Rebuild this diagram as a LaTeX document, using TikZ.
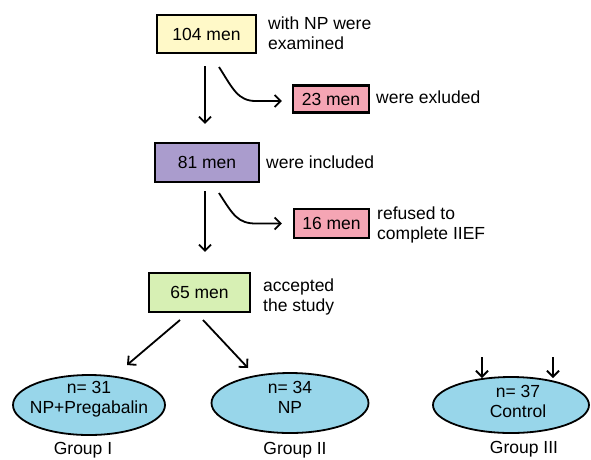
\documentclass[tikz,border=0pt]{standalone}
\usepackage{fontspec}
\setmainfont{Liberation Sans}
\usetikzlibrary{arrows.meta,shapes.geometric}
\definecolor{boxyellow}{RGB}{255,249,200}
\definecolor{boxpink}{RGB}{245,165,180}
\definecolor{boxpurple}{RGB}{170,156,205}
\definecolor{boxgreen}{RGB}{215,240,180}
\definecolor{ovalblue}{RGB}{152,214,234}
\begin{document}
\begin{tikzpicture}[x=1pt,y=-1pt,
  font=\fontsize{17.5}{20}\selectfont,
  box/.style={draw=black,line width=2.2pt,inner sep=0pt,align=center},
  oval/.style={ellipse,draw=black,line width=1.8pt,fill=ovalblue,inner sep=0pt},
  lbl/.style={anchor=west,align=left,inner sep=0pt},
  ctext/.style={align=center,inner sep=0pt},
  arr/.style={line width=1.8pt,-{Straight Barb[length=6pt,width=12pt,line width=1.8pt]}}]
\useasboundingbox (0,0) rectangle (591,459);

% boxes
\node[box,fill=boxyellow,minimum width=99pt,minimum height=38pt] (b104) at (206.5,34) {104 men};
\node[box,fill=boxpink,minimum width=76pt,minimum height=27pt] (b23) at (331,99) {23 men};
\node[box,fill=boxpurple,minimum width=104pt,minimum height=39pt] (b81) at (207,162.5) {81 men};
\node[box,fill=boxpink,minimum width=75pt,minimum height=29pt] (b16) at (331.5,223.5) {16 men};
\node[box,fill=boxgreen,minimum width=101pt,minimum height=39pt] (b65) at (199.5,292.5) {65 men};

% side labels
\node[lbl] (t104) at (268,33) {with NP were\\examined};
\node[lbl] (t23) at (376,97) {were exluded};
\node[lbl] (t81) at (266,162) {were included};
\node[lbl] (t16) at (377,225) {refused to\\complete IIEF};
\node[lbl] (t65) at (263,297) {accepted\\the study};

% ellipses
\node[oval,minimum width=152pt,minimum height=60pt] (e1) at (89,405) {};
\node[oval,minimum width=157pt,minimum height=60pt] (e2) at (290,403) {};
\node[oval,minimum width=156pt,minimum height=56pt] (e3) at (511,405) {};
\node[ctext] (n1) at (89,399) {n= 31\\NP+Pregabalin};
\node[ctext] (n2) at (290,397) {n= 34\\NP};
\node[ctext] (n3) at (518,401) {n= 37\\Control};

% group labels
\node[ctext] (g1) at (83,450) {Group I};
\node[ctext] (g2) at (295,450) {Group II};
\node[ctext] (g3) at (524,449) {Group III};

% vertical arrows
\draw[arr,shorten <=12pt,shorten >=18pt] ([xshift=-1.5pt]b104.south) -- ([xshift=-1.5pt]b104.south |- b81.north);
\draw[arr,shorten <=8pt,shorten >=20pt] ([xshift=-2pt]b81.south) -- ([xshift=-2pt]b81.south |- b65.north);

% curved arrows
\coordinate (c1) at (219,67);
\coordinate (c2) at (219,193);
\draw[arr] (c1) .. controls +(14,22) and +(-18,0) .. ([xshift=-36pt,yshift=-2pt]b23.west) -- ([xshift=-10pt,yshift=-2pt]b23.west);
\draw[arr] (c2) .. controls +(14,22) and +(-18,0) .. ([xshift=-37pt]b16.west) -- ([xshift=-11pt]b16.west);

% arrows to groups
\coordinate (s1) at (180,320);
\coordinate (s2) at (203,320);
\coordinate (d1) at (127,365);
\coordinate (d2) at (248,368);
\draw[arr] (s1) -- (d1);
\draw[arr] (s2) -- (d2);

% small arrows above control
\coordinate (a1) at (482,357);
\coordinate (a2) at (553,357);
\draw[arr] (a1) -- (482,378);
\draw[arr] (a2) -- (553,378);
\end{tikzpicture}
\end{document}
